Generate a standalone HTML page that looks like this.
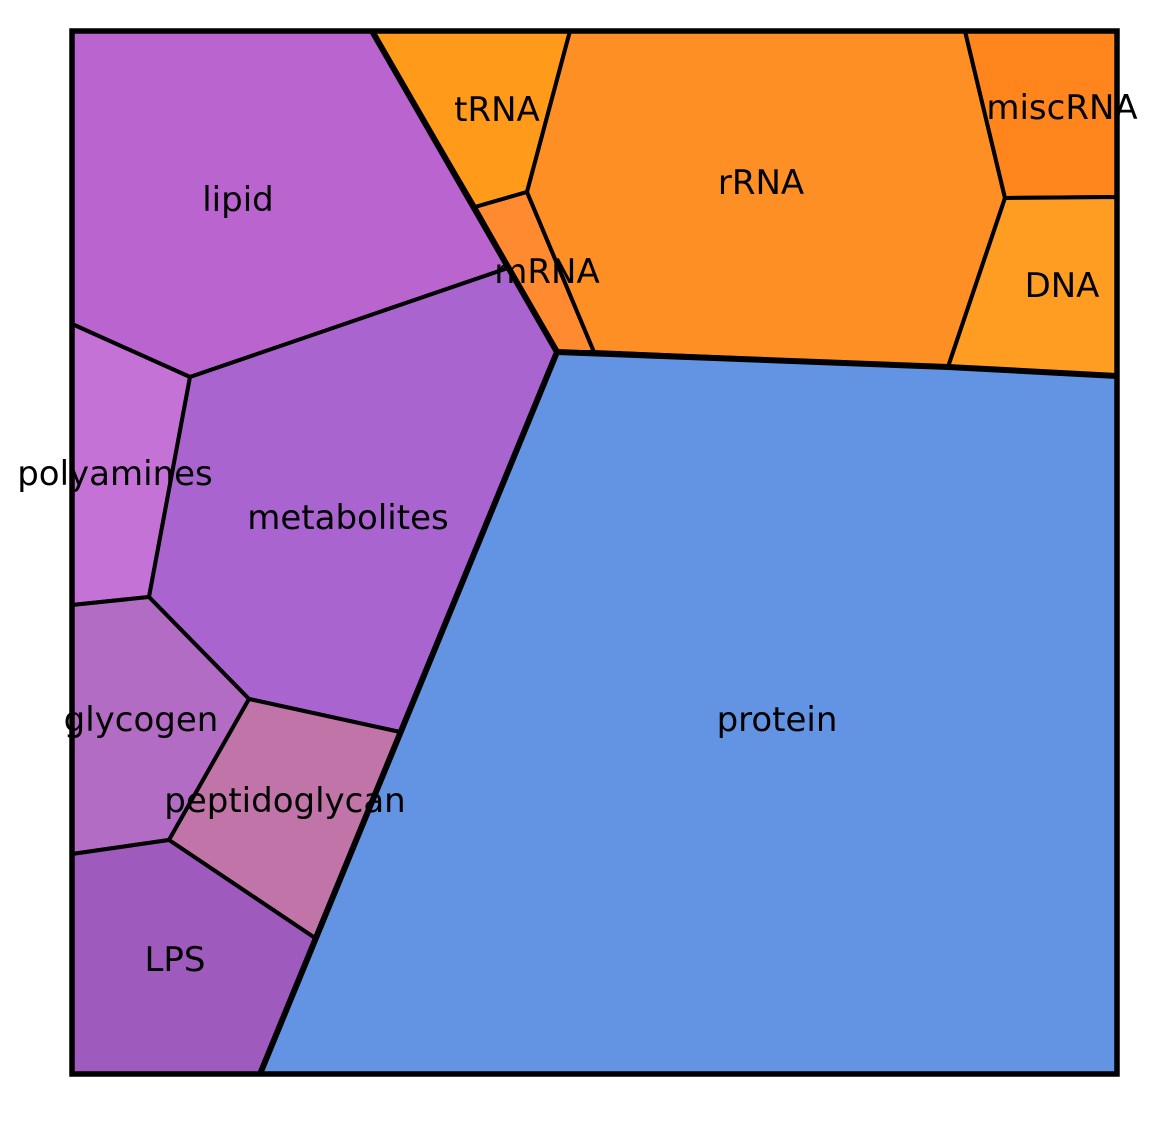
<!DOCTYPE html>
<html><head><meta charset="utf-8">
<style>
html,body{margin:0;padding:0;background:#fff;}
svg{display:block;}
text{font-family:"DejaVu Sans","Liberation Sans",sans-serif;font-size:34px;fill:#000;}
</style></head>
<body>
<svg id="chart" width="1150" height="1136" viewBox="0 0 1150 1136" xmlns="http://www.w3.org/2000/svg"></svg>
<script>
const names = ["lipid","polyamines","metabolites","glycogen","peptidoglycan","LPS","tRNA","mRNA","rRNA","miscRNA","DNA","protein"];
const groups = ["lipids","lipids","lipids","lipids","lipids","lipids","nucleic","nucleic","nucleic","nucleic","nucleic","protein"];
const colors = ["#b964cf","#c472d6","#a964cf","#b36cc3","#c074a8","#9e5bbd","#ff9a1a","#ff8a30","#fd8f25","#ff851c","#ff9c22","#6394e4"];
const cellX = [
 [0,300,436,118,0],
 [0,118,77,0],
 [118,436,485,328,177,77],
 [0,77,177,97,0],
 [177,328,243,97],
 [0,97,243,188,0],
 [300,498,455,403],
 [403,455,522,485],
 [498,893,933,876,522,455],
 [893,1045,1045,933],
 [933,1045,1045,876],
 [485,876,1045,1045,188]
];
const cellY = [
 [0,0,237,346,293],
 [293,346,566,574],
 [346,237,321,701,668,566],
 [574,566,668,809,823],
 [668,701,907,809],
 [823,809,907,1043,1043],
 [0,0,161,176],
 [176,161,321,321],
 [0,0,167,336,321,161],
 [0,0,166,167],
 [167,166,345,336],
 [321,336,345,1043,1043]
];
const labelX = [166,43,276,69,213,103,425,475,689,990,990,705];
const labelY = [169,443,487,689,770,929,79,241,152,77,255,689];
const groupLinesX = [[300,485,188],[485,876,1045]];
const groupLinesY = [[0,321,1043],[321,336,345]];

const X0=72, Y0=31;
const sx = v => X0 + v;
const sy = v => Y0 + v;
const NS="http://www.w3.org/2000/svg";
const svg=document.getElementById('chart');

names.forEach((n,i)=>{
  const p=document.createElementNS(NS,'polygon');
  p.setAttribute('points', cellX[i].map((x,k)=>sx(x)+','+sy(cellY[i][k])).join(' '));
  p.setAttribute('fill',colors[i]);
  p.setAttribute('stroke','#000');
  p.setAttribute('stroke-width','4');
  p.setAttribute('stroke-linejoin','round');
  
  
  svg.appendChild(p);
});
groupLinesX.forEach((gx,i)=>{
  const l=document.createElementNS(NS,'polyline');
  l.setAttribute('points', gx.map((x,k)=>sx(x)+','+sy(groupLinesY[i][k])).join(' '));
  l.setAttribute('fill','none');
  l.setAttribute('stroke','#000');
  l.setAttribute('stroke-width','6');
  
  
  svg.appendChild(l);
});
const frame=document.createElementNS(NS,'rect');
frame.setAttribute('x',sx(0));frame.setAttribute('y',sy(0));
frame.setAttribute('width',1045);frame.setAttribute('height',1043);
frame.setAttribute('fill','none');frame.setAttribute('stroke','#000');frame.setAttribute('stroke-width','5.5');


svg.appendChild(frame);
names.forEach((n,i)=>{
  const t=document.createElementNS(NS,'text');
  t.setAttribute('x',sx(labelX[i]));t.setAttribute('y',sy(labelY[i])+11);
  t.setAttribute('text-anchor','middle');
  t.textContent=n;
  
  
  svg.appendChild(t);
});
</script>
</body></html>
